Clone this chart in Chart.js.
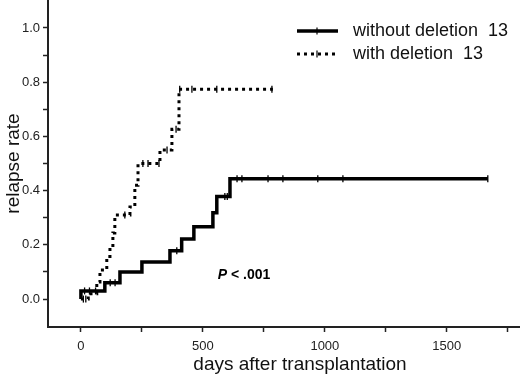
<!DOCTYPE html>
<html>
<head>
<meta charset="utf-8">
<script src="https://cdn.jsdelivr.net/npm/chart.js@4"></script>
<style>
  html, body { margin: 0; padding: 0; background: #fff; }
  canvas { display: block; }
</style>
</head>
<body>
<canvas id="chartRecaida" width="520" height="377"></canvas>
<script>
// ============================================================
// DATOS
// ============================================================
const etiquetasSeries = ['without deletion  13', 'with deletion  13'];

// sin deleción 13 (línea continua)
const diasSin  = [0, 0,    98,   160,  250,   365,   413,   463,   541,   557,   611,   1668];
const tasaSin  = [0, 0.03, 0.06, 0.10, 0.137, 0.178, 0.222, 0.267, 0.318, 0.378, 0.444, 0.444];
const censSin  = [15, 35, 60, 120, 140, 393, 590, 600, 640, 660, 767, 828, 971, 1074, 1668];

// con deleción 13 (línea punteada)
const diasCon  = [0, 30,   65,    78,    106,   119,  131,   139,  139,  201,  221,  234,   234,  324,  324,  373,   373,   402,   402,   402,   402,   787];
const tasaCon  = [0, 0.02, 0.063, 0.107, 0.157, 0.19, 0.244, 0.28, 0.31, 0.34, 0.42, 0.467, 0.50, 0.52, 0.55, 0.596, 0.626, 0.655, 0.707, 0.744, 0.774, 0.774];
const censCon  = [10, 20, 180, 254, 275, 320, 353, 390, 405, 455, 557, 783];

const ticksX = [0, 250, 500, 750, 1000, 1250, 1500, 1750];
const ticksY = [0, 0.1, 0.2, 0.3, 0.4, 0.5, 0.6, 0.7, 0.8, 0.9, 1.0];
const tituloX = 'days after transplantation';
const tituloY = 'relapse rate';
const textoP = ['P', ' < .001'];

// valor de la curva escalonada en un día dado
function valorEscalon(dias, tasas, d) {
    let v = tasas[0];
    for (let i = 0; i < dias.length; i++) { if (dias[i] <= d) v = tasas[i]; }
    return v;
}
const puntos = (dias, tasas) => dias.map((d, i) => ({ x: d, y: tasas[i] }));
const censuras = (cens, dias, tasas) => cens.map(d => ({ x: d, y: valorEscalon(dias, tasas, d) }));

const FUENTE = '"Liberation Sans", Arial, sans-serif';

// leyenda, título X y texto P dibujados a mano
const pluginExtras = {
    id: 'extras',
    afterDraw(chart) {
        const ctx = chart.ctx;
        const xs = chart.scales.x, ys = chart.scales.y;
        ctx.save();
        // leyenda
        const filas = [
            { y: 31, dash: [], ancho: 3.5 },
            { y: 54, dash: [3, 4], ancho: 3 }
        ];
        filas.forEach((f, i) => {
            ctx.strokeStyle = '#000';
            ctx.lineWidth = f.ancho;
            ctx.setLineDash(f.dash);
            ctx.beginPath(); ctx.moveTo(297, f.y); ctx.lineTo(338, f.y); ctx.stroke();
            ctx.setLineDash([]);
            ctx.lineWidth = 1.2;
            ctx.beginPath(); ctx.moveTo(317, f.y - 3.5); ctx.lineTo(317, f.y + 3.5); ctx.stroke();
            ctx.fillStyle = '#111';
            ctx.font = '18px ' + FUENTE;
            ctx.textBaseline = 'middle';
            ctx.textAlign = 'left';
            ctx.fillText(etiquetasSeries[i], 353, f.y);
        });
        // título eje X
        ctx.font = '19px ' + FUENTE;
        ctx.textAlign = 'center';
        ctx.textBaseline = 'middle';
        ctx.fillStyle = '#111';
        ctx.fillText(tituloX, 300, 365);
        // P < .001
        const px = xs.getPixelForValue(561), py = ys.getPixelForValue(0.089);
        ctx.textAlign = 'left';
        ctx.fillStyle = '#000';
        ctx.font = 'italic bold 14px ' + FUENTE;
        ctx.fillText(textoP[0], px, py);
        const w = ctx.measureText(textoP[0]).width;
        ctx.font = 'bold 14px ' + FUENTE;
        ctx.fillText(textoP[1], px + w, py);
        ctx.restore();
    }
};

new Chart(document.getElementById('chartRecaida').getContext('2d'), {
    type: 'line',
    data: {
        datasets: [
            {
                label: etiquetasSeries[0],
                data: puntos(diasSin, tasaSin),
                stepped: 'before',
                borderColor: '#000',
                borderWidth: 3.5,
                pointRadius: 0,
                fill: false
            },
            {
                label: etiquetasSeries[1],
                data: puntos(diasCon, tasaCon),
                stepped: 'before',
                borderColor: '#000',
                borderWidth: 3,
                borderDash: [3, 4],
                pointRadius: 0,
                fill: false
            },
            {
                type: 'scatter',
                data: censuras(censSin, diasSin, tasaSin),
                pointStyle: 'line',
                rotation: 90,
                pointRadius: 3.5,
                borderColor: '#000',
                borderWidth: 1.3
            },
            {
                type: 'scatter',
                data: censuras(censCon, diasCon, tasaCon),
                pointStyle: 'line',
                rotation: 90,
                pointRadius: 3.5,
                borderColor: '#000',
                borderWidth: 1.3
            }
        ]
    },
    options: {
        responsive: false,
        animation: false,
        devicePixelRatio: 1,
        layout: { padding: 0, autoPadding: false },
        plugins: { legend: { display: false }, tooltip: { enabled: false } },
        scales: {
            x: {
                type: 'linear',
                min: -135, max: 1800,
                afterBuildTicks: s => { s.ticks = ticksX.map(v => ({ value: v })); },
                afterFit: s => { s.height = 50; s.paddingLeft = 0; s.paddingRight = 0; },
                border: { display: true, color: '#222', width: 2 },
                grid: { drawOnChartArea: false, drawTicks: true, tickLength: 5, color: '#222', tickWidth: 1.5 },
                ticks: {
                    color: '#222', font: { family: FUENTE, size: 13 }, padding: 7, maxRotation: 0,
                    autoSkip: false,
                    callback: v => (v % 500 === 0 ? String(v) : '')
                },
                title: { display: false }
            },
            y: {
                type: 'linear',
                min: -0.103, max: 1.103,
                afterBuildTicks: s => { s.ticks = ticksY.map(v => ({ value: v })); },
                afterFit: s => { s.width = 48; s.paddingTop = 0; s.paddingBottom = 0; },
                border: { display: true, color: '#222', width: 2 },
                grid: { drawOnChartArea: false, drawTicks: true, tickLength: 5, color: '#222', tickWidth: 1.5 },
                ticks: {
                    color: '#222', font: { family: FUENTE, size: 13 }, padding: 3,
                    autoSkip: false,
                    callback: v => (Math.round(v * 10) % 2 === 0 ? v.toFixed(1) : '')
                },
                title: {
                    display: true, text: tituloY, color: '#111',
                    font: { family: FUENTE, size: 19 }, padding: { top: 2, bottom: 2 }
                }
            }
        }
    },
    plugins: [pluginExtras]
});
</script>
</body>
</html>
